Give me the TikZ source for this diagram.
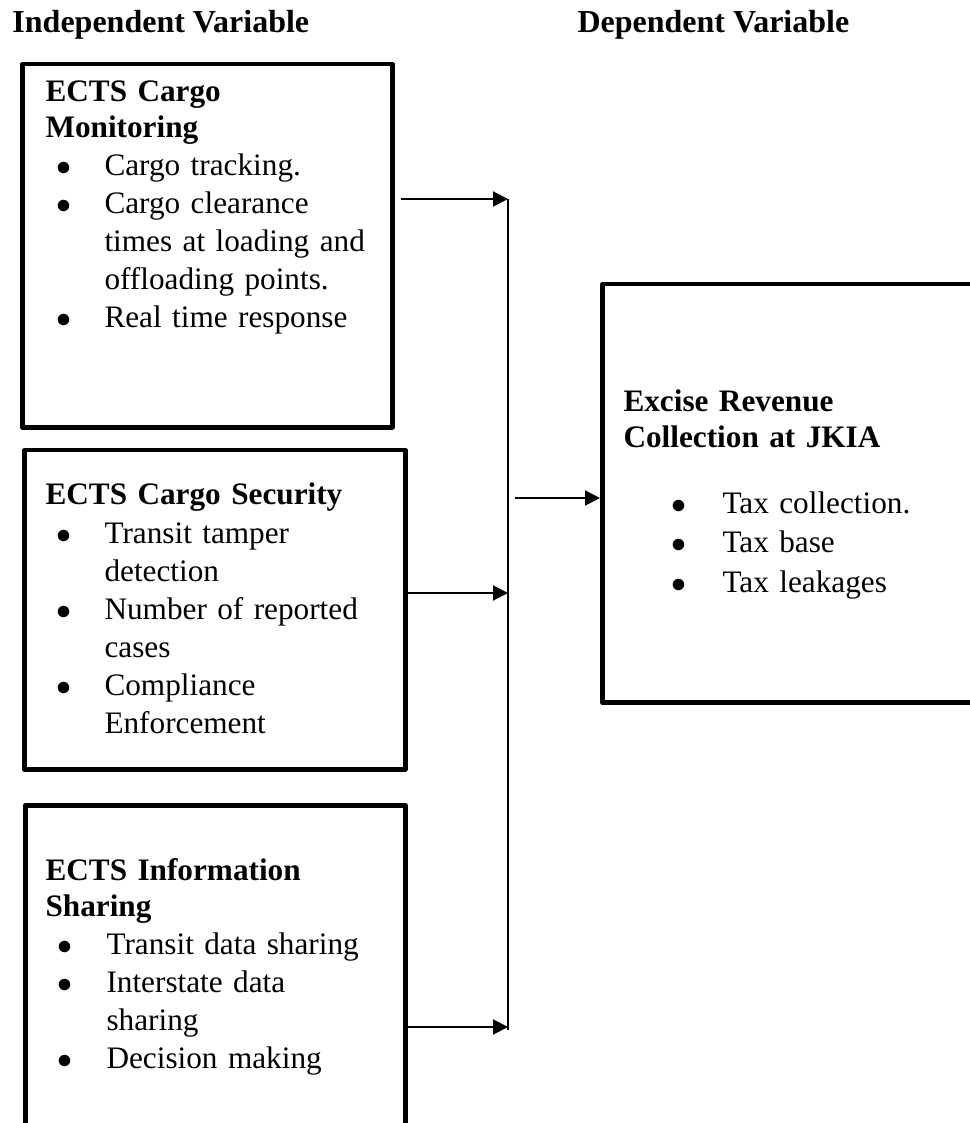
\documentclass[tikz,border=0pt]{standalone}
\usepackage{fontspec}
\setmainfont{Liberation Serif}
\usetikzlibrary{arrows.meta, positioning, calc}

% bullet list used inside the boxes: [topsep]{leftmargin}{labelsep}{baselineskip}
\newenvironment{dotlist}[4][0pt]{%
  \begin{list}{$\bullet$}{%
    \setlength{\leftmargin}{#2}\setlength{\labelsep}{#3}%
    \setlength{\labelwidth}{10pt}\setlength{\topsep}{#1}%
    \setlength{\partopsep}{0pt}\setlength{\itemsep}{0pt}%
    \setlength{\parsep}{0pt}\fontsize{12.5pt}{#4}\selectfont
    \renewcommand{\makelabel}[1]{\hfil##1\hfil}}}
  {\end{list}}

\begin{document}
\begin{tikzpicture}[x=0.4pt, y=-0.4pt,
  card/.style={draw, line width=1.8pt, line join=round, inner sep=0pt, anchor=north west},
  txt/.style={inner sep=0pt, text width=150pt, align=left, anchor=base west, font=\fontsize{12.5pt}{14.4pt}\selectfont},
  heading/.style={inner sep=0pt, anchor=base west, font=\fontsize{12.8pt}{14.4pt}\selectfont\bfseries},
  flow/.style={line width=0.8pt, -{Triangle[length=6pt, width=6pt]}}]
  \useasboundingbox (0,0) rectangle (970,1123);

  % Headings
  \node[heading] (indep) at (12,33) {Independent Variable};
  \node[heading] (dep) at (577,33) {Dependent Variable};

  % Boxes
  \node[card, minimum width=148pt, minimum height=145.2pt] (mon) at (20,62) {};
  \node[card, minimum width=152.4pt, minimum height=127.6pt] (sec) at (22,448) {};
  \node[card, minimum width=152pt, minimum height=136pt] (info) at (23,803) {};
  \node[card, minimum width=160pt, minimum height=167.2pt] (rev) at (600,282) {};

  % Box texts
  \node[txt] (montxt) at (45,102) {\textbf{ECTS Cargo}\\\textbf{Monitoring}\par
    \begin{dotlist}{23.6pt}{11.4pt}{15.2pt}
      \item Cargo tracking.
      \item Cargo clearance\\times at loading and\\offloading points.
      \item Real time response
    \end{dotlist}};

  \node[txt] (sectxt) at (45,505) {\textbf{ECTS Cargo Security}\par
    \begin{dotlist}{23.6pt}{11.4pt}{15.2pt}
      \item Transit tamper\\detection
      \item Number of reported\\cases
      \item Compliance\\Enforcement
    \end{dotlist}};

  \node[txt] (infotxt) at (45,880) {\textbf{ECTS Information}\\\textbf{Sharing}\par
    \begin{dotlist}{24.4pt}{11.6pt}{15.2pt}
      \item Transit data sharing
      \item Interstate data\\sharing
      \item Decision making
    \end{dotlist}};

  \node[txt, text width=140pt] (revtxt) at (623,412) {\textbf{Excise Revenue}\\\textbf{Collection at JKIA}\par
    \begin{dotlist}[10.2pt]{39.6pt}{12.6pt}{15.8pt}
      \item Tax collection.
      \item Tax base
      \item Tax leakages
    \end{dotlist}};

  % Connectors
  \coordinate (bustop) at (508,199);
  \coordinate (busbot) at (508,1030);
  \coordinate (j2) at (508,593);
  \coordinate (j3) at (508,1027);
  \coordinate (j4) at (515,498);
  \draw[line width=0.8pt] (bustop) -- (busbot);
  \draw[flow] ([xshift=2.4pt]mon.east |- bustop) -- (bustop);
  \draw[flow] (sec.east |- j2) -- (j2);
  \draw[flow] (info.east |- j3) -- (j3);
  \draw[flow] (j4) -- (rev.west |- j4);
\end{tikzpicture}
\end{document}
